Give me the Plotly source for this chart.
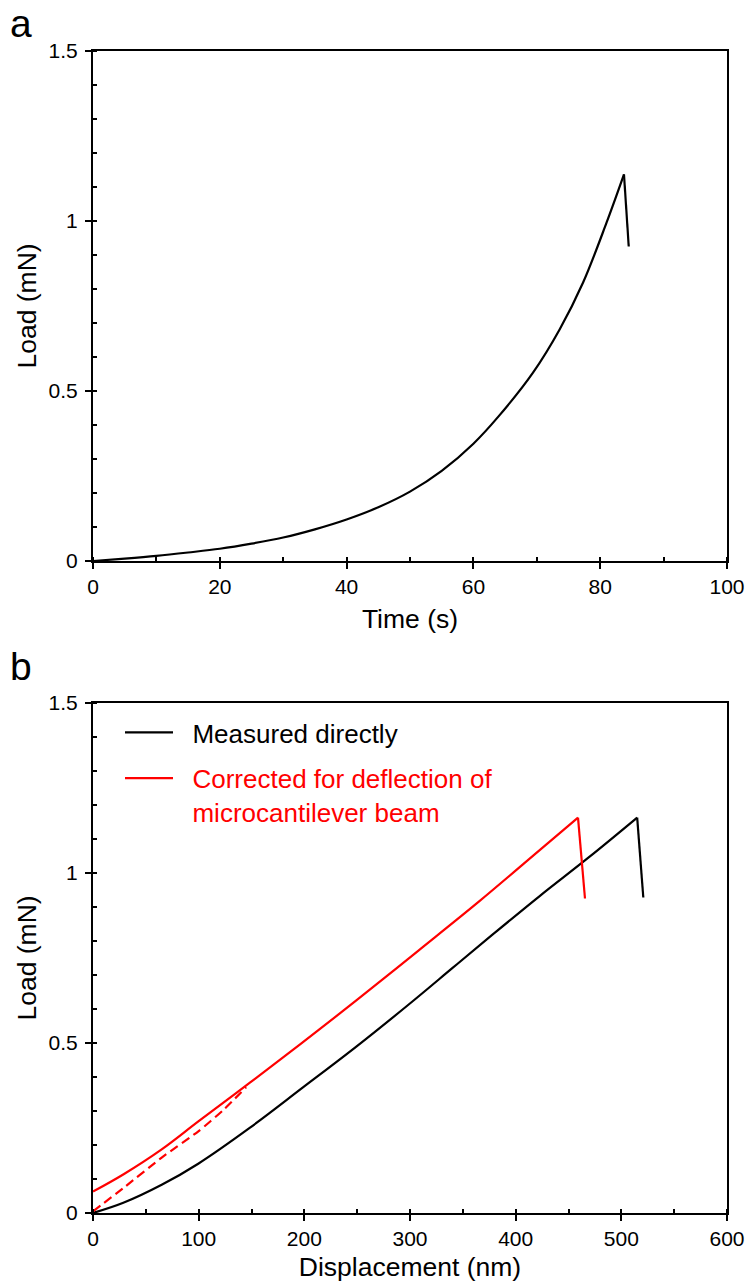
import plotly.graph_objects as go

# ---------------- data ----------------
# Panel a: load vs time
time_s = [0, 5, 10, 15, 20, 25, 30, 35, 40, 45, 50, 55, 60, 64, 69.4, 73.6, 77.3, 81, 83.75, 84.5]
load_time = [0, 0.007, 0.015, 0.025, 0.036, 0.051, 0.069, 0.093, 0.122, 0.158, 0.204, 0.265,
             0.345, 0.426, 0.554, 0.681, 0.819, 0.995, 1.137, 0.925]

# Panel b: load vs displacement
disp_measured = [0, 28.7, 65, 99.6, 148.6, 199, 249.5, 303.4, 340, 378.6, 423, 470, 515, 520.8]
load_measured = [0, 0.03, 0.083, 0.145, 0.251, 0.37, 0.49, 0.625, 0.72, 0.82, 0.933, 1.048, 1.163, 0.928]

disp_corrected = [0, 29, 65, 100, 148.8, 199, 249.5, 308, 366, 423, 459, 465.6]
load_corrected = [0.063, 0.114, 0.187, 0.27, 0.384, 0.503, 0.626, 0.772, 0.918, 1.068, 1.163, 0.925]

disp_fit = [0, 29, 65, 100, 123, 145]
load_fit = [0.005, 0.074, 0.163, 0.241, 0.302, 0.37]

x_ticks_a = [0, 20, 40, 60, 80, 100]
x_ticks_b = [0, 100, 200, 300, 400, 500, 600]
y_ticks = [0, 0.5, 1, 1.5]
y_ticklabels = ["0", "0.5", "1", "1.5"]

names = ["Measured directly", "Corrected for deflection of<br>microcantilever beam"]

FONT = "Liberation Sans, Arial, Helvetica, sans-serif"
RED = "#ff0000"

fig = go.Figure()


def add_curve(x, y, color, xa, ya, name=None, show=False, group=None):
    # rising part smoothed, final load drop drawn as a straight segment
    fig.add_trace(go.Scatter(x=x[:-1], y=y[:-1], mode="lines",
                             line=dict(color=color, width=2.2, shape="spline", smoothing=1.0),
                             xaxis=xa, yaxis=ya, name=name, showlegend=show,
                             legendgroup=group))
    fig.add_trace(go.Scatter(x=x[-2:], y=y[-2:], mode="lines",
                             line=dict(color=color, width=2.2), xaxis=xa, yaxis=ya,
                             showlegend=False, legendgroup=group))


add_curve(time_s, load_time, "black", "x", "y")
add_curve(disp_measured, load_measured, "black", "x2", "y2",
          name="&nbsp;&nbsp;" + names[0], show=True, group="g1")
add_curve(disp_corrected, load_corrected, RED, "x2", "y2",
          name="<span style='color:#ff0000'>&nbsp;&nbsp;" +
               names[1].replace("<br>", "<br>&nbsp;&nbsp;") + "</span>",
          show=True, group="g2")
fig.add_trace(go.Scatter(x=disp_fit, y=load_fit, mode="lines",
                         line=dict(color=RED, width=2.2, dash="9px,5px", shape="spline",
                                   smoothing=0.6),
                         xaxis="x2", yaxis="y2", showlegend=False))


def main_axis(rng, tickvals, ticktext, minor_dtick, title, standoff, domain=None, anchor=None):
    d = dict(range=rng, showline=True, linecolor="black", linewidth=2, mirror=True,
             showgrid=False, zeroline=False, ticks="outside", ticklen=6, tickwidth=2,
             tickcolor="black", tickmode="array", tickvals=tickvals, ticktext=ticktext,
             tickfont=dict(size=21, color="black", family=FONT),
             minor=dict(ticks="inside", ticklen=4, tickwidth=1.5, tickcolor="black",
                        dtick=minor_dtick, tick0=0, showgrid=False),
             title=dict(text=title, font=dict(size=26.5, color="black", family=FONT),
                        standoff=standoff),
             automargin=False, fixedrange=True)
    if domain is not None:
        d["domain"] = domain
    if anchor is not None:
        d["anchor"] = anchor
    return d


def cross_axis(rng, tickvals, overlay, anchor):
    return dict(range=rng, overlaying=overlay, anchor=anchor, showline=False, showgrid=False,
                zeroline=False, ticks="inside", ticklen=6, tickwidth=2, tickcolor="black",
                tickmode="array", tickvals=tickvals, showticklabels=False, fixedrange=True)


top_dom = [652 / 1162, 1.0]
bot_dom = [0.0, 510 / 1162]

xa = main_axis([0, 100], x_ticks_a, [str(v) for v in x_ticks_a], 10, "Time (s)", 12, anchor="y")
ya = main_axis([0, 1.5], y_ticks, y_ticklabels, 0.1, "Load (mN)", 4, domain=top_dom, anchor="x")
xb = main_axis([0, 600], x_ticks_b, [str(v) for v in x_ticks_b], 50, "Displacement (nm)", 8, anchor="y2")
yb = main_axis([0, 1.5], y_ticks, y_ticklabels, 0.1, "Load (mN)", 4, domain=bot_dom, anchor="x2")
ya["ticklabelstandoff"] = 3
yb["ticklabelstandoff"] = 3

fig.update_layout(
    width=749, height=1285,
    margin=dict(l=93, r=22, t=51, b=72),
    paper_bgcolor="white", plot_bgcolor="white",
    font=dict(family=FONT, color="black"),
    xaxis=xa, yaxis=ya, xaxis2=xb, yaxis2=yb,
    xaxis3=cross_axis([0, 100], x_ticks_a, "x", "y"),
    yaxis3=cross_axis([0, 1.5], y_ticks, "y", "x"),
    xaxis4=cross_axis([0, 600], x_ticks_b, "x2", "y2"),
    yaxis4=cross_axis([0, 1.5], y_ticks, "y2", "x2"),
    legend=dict(x=(120 - 93) / 634, y=(1213 - 709) / 1162, xanchor="left", yanchor="top",
                bgcolor="rgba(0,0,0,0)", borderwidth=0, valign="top", itemwidth=48,
                font=dict(size=26, color="black", family=FONT), tracegroupgap=9),
    annotations=[
        dict(text="a", xref="paper", yref="paper", x=(8 - 93) / 634, y=1 + (51 - 0) / 1162,
             xanchor="left", yanchor="top", showarrow=False,
             font=dict(size=39, color="black", family=FONT)),
        dict(text="b", xref="paper", yref="paper", x=(8 - 93) / 634, y=(1213 - 667) / 1162,
             xanchor="left", yanchor="middle", showarrow=False,
             font=dict(size=39, color="black", family=FONT)),
    ],
)

fig.write_html("out.html")
